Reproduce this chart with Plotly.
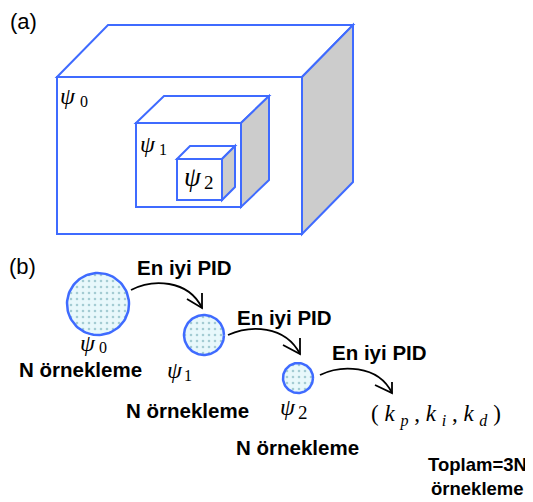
import numpy as np
import plotly.graph_objects as go

W, H = 533, 502
OFF = 8  # default page body margin
BLUE = "#3f6bff"
GRAY = "#cccccc"

# cubes: front x0, x1, y0, y1, depth dx, dy
cube_names = ["ψ0", "ψ1", "ψ2"]
cube_front = [(57, 302, 77, 234), (136, 241, 123, 207), (177, 222, 159, 200)]
cube_depth = [(51, -52), (28, -27), (13, -13)]

# circles: center x, y, radius
circle_centers = [(98, 304), (204, 335), (298, 378)]
circle_radii = [31, 20, 15]

# arrows: start, control1, control2, tip, head-left point, head-top point
arrow_paths = [
    ((131, 290), (152, 279), (188, 279), (202, 308), (187, 299), (202, 293)),
    ((228, 335), (250, 325), (285, 325), (300, 354), (283, 345), (300, 338)),
    ((320, 375), (340, 365), (378, 364), (392, 393), (375, 385), (392, 382)),
]

best_labels = ["En iyi PID", "En iyi PID", "En iyi PID"]
best_pos = [(184, 267), (284, 317), (379, 352)]
sample_labels = ["N örnekleme", "N örnekleme", "N örnekleme"]
sample_pos = [(80, 369), (187, 410), (297, 447)]

fig = go.Figure()
shapes = []
for (x0, x1, y0, y1), (dx, dy) in zip(cube_front, cube_depth):
    shapes.append(dict(type="path", path=f"M {x0} {y0} L {x0+dx} {y0+dy} L {x1+dx} {y0+dy} L {x1} {y0} Z",
                       fillcolor="white", line=dict(color=BLUE, width=2), layer="above"))
    shapes.append(dict(type="path", path=f"M {x1} {y0} L {x1+dx} {y0+dy} L {x1+dx} {y1+dy} L {x1} {y1} Z",
                       fillcolor=GRAY, line=dict(color=BLUE, width=2), layer="above"))
    shapes.append(dict(type="rect", x0=x0, x1=x1, y0=y0, y1=y1,
                       fillcolor="white", line=dict(color=BLUE, width=2), layer="above"))

for (s, c1, c2, t, hl, ht) in arrow_paths:
    shapes.append(dict(type="path", path=f"M {s[0]} {s[1]} C {c1[0]} {c1[1]}, {c2[0]} {c2[1]}, {t[0]} {t[1]}",
                       line=dict(color="black", width=1.8)))
    shapes.append(dict(type="path", path=f"M {hl[0]} {hl[1]} L {t[0]} {t[1]} L {ht[0]} {ht[1]}",
                       line=dict(color="black", width=1.8)))

th = np.linspace(0, 2 * np.pi, 100)
for (cx, cy), r in zip(circle_centers, circle_radii):
    fig.add_trace(go.Scatter(x=cx + r * np.cos(th), y=cy + r * np.sin(th), mode="lines",
                             fill="toself", line=dict(color=BLUE, width=2.5),
                             fillcolor="#e8f8fb",
                             fillpattern=dict(shape=".", fgcolor="#5f9fab", bgcolor="#e8f8fb",
                                              size=6, solidity=0.15),
                             hoverinfo="skip", showlegend=False))

ann = []
def txt(x, y, t, size, family="Arial", bold=False, italic=False, xanchor="center", color="black"):
    if bold:
        t = f"<b>{t}</b>"
    if italic:
        t = f"<i>{t}</i>"
    ann.append(dict(x=x, y=y, text=t, showarrow=False, xanchor=xanchor, yanchor="middle",
                    font=dict(size=size, family=family, color=color)))

SERIF = "Liberation Serif"
BF = 20.5
txt(23, 21, "(a)", 22)
txt(22, 266, "(b)", 22)

# psi labels in cubes
txt(68, 96, "ψ", 24, SERIF, italic=True)
txt(84, 101, "0", 16, SERIF)
txt(148, 144, "ψ", 24, SERIF, italic=True)
txt(163, 149, "1", 16, SERIF)
txt(193, 177, "ψ", 27, SERIF, italic=True)
txt(209, 182, "2", 19, SERIF)

# psi labels in (b)
txt(88, 343, "ψ", 24, SERIF, italic=True)
txt(103, 347, "0", 16, SERIF)
txt(175, 370, "ψ", 24, SERIF, italic=True)
txt(188, 375, "1", 16, SERIF)
txt(288, 407, "ψ", 24, SERIF, italic=True)
txt(303, 412, "2", 19, SERIF)

for (x, y), t in zip(best_pos, best_labels):
    txt(x, y, t, BF, bold=True)
for (x, y), t in zip(sample_pos, sample_labels):
    txt(x, y, t, BF, bold=True)

txt(436, 415, "( <i>k</i> <sub><i>p</i></sub> , <i>k</i> <sub><i>i</i></sub> , <i>k</i> <sub><i>d</i></sub> )", 23, SERIF)
txt(477, 464, "Toplam=3N", 18.5, bold=True)
txt(477, 488, "örnekleme", 18.5, bold=True)

fig.update_layout(width=W - OFF, height=H - OFF, margin=dict(l=0, r=0, t=0, b=0),
                  paper_bgcolor="white", plot_bgcolor="white",
                  xaxis=dict(range=[OFF, W], visible=False, fixedrange=True),
                  yaxis=dict(range=[H, OFF], visible=False, fixedrange=True),
                  shapes=shapes, annotations=ann, showlegend=False)
fig.write_html("out.html")
